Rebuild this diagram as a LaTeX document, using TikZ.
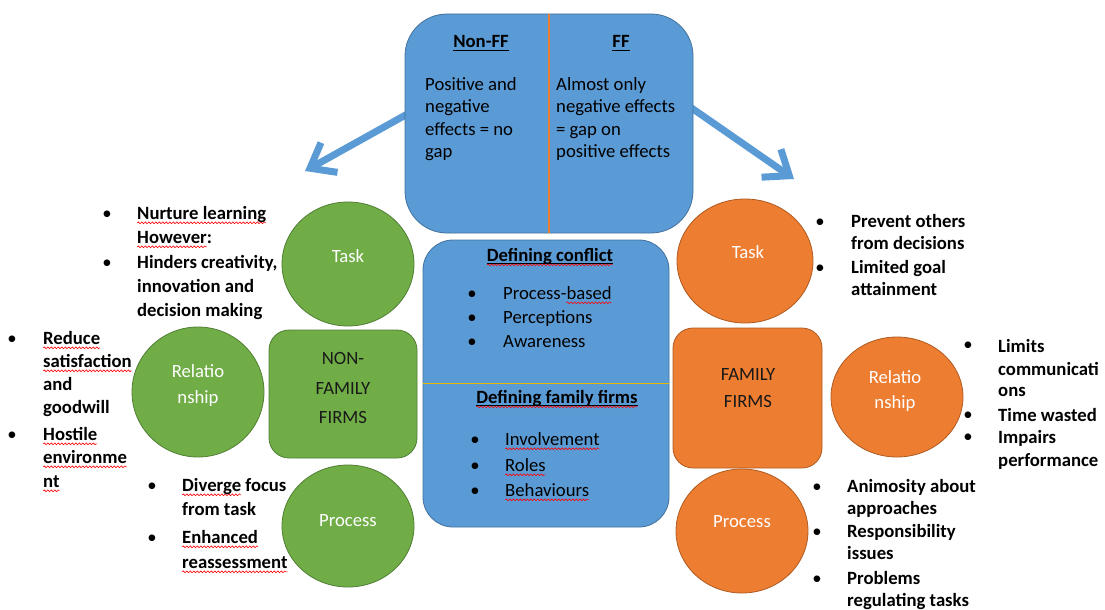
\documentclass[tikz,border=0pt]{standalone}
\usepackage{fontspec}
\setmainfont{Carlito}
\usetikzlibrary{arrows.meta,shapes.geometric,decorations.pathmorphing}
\definecolor{blueF}{HTML}{5B9BD5}
\definecolor{blueD}{HTML}{41719C}
\definecolor{greenF}{HTML}{70AD47}
\definecolor{greenD}{HTML}{507E32}
\definecolor{orangeF}{HTML}{ED7D31}
\definecolor{orangeD}{HTML}{AE5A21}
\definecolor{goldL}{HTML}{E6B800}
\newcommand\fs{\fontsize{18.7}{23}\selectfont}
\newsavebox\sqbox
\newlength\sqw
\newcommand\sq[1]{\sbox\sqbox{#1}\setlength\sqw{\wd\sqbox}\rlap{\tikz[overlay]\draw[red,line width=0.6pt,decorate,decoration={snake,amplitude=0.9pt,segment length=3.5pt}] (0pt,-3.8pt) -- (\sqw,-3.8pt);}\usebox\sqbox}
\newcommand\ul[1]{\sbox\sqbox{#1}\setlength\sqw{\wd\sqbox}\rlap{\tikz[overlay]\draw[black,line width=1.3pt] (0pt,-2.2pt) -- (\sqw,-2.2pt);}\usebox\sqbox}
\tikzset{
  txt/.style={anchor=base west, inner sep=0pt, font=\fs\bfseries, text=black},
  ptxt/.style={anchor=base west, inner sep=0pt, font=\fs, text=black},
  bul/.style={anchor=base, inner sep=0pt, font=\fs, text=black},
  wlab/.style={anchor=base, inner sep=0pt, font=\fs, text=white},
  dlab/.style={anchor=base, inner sep=0pt, font=\fs, text=black!90},
  hd/.style={anchor=base, inner sep=0pt, font=\fs\bfseries, text=black},
  bluebox/.style={draw=blueD, fill=blueF, line width=0.8pt},
  gcirc/.style={ellipse, draw=greenD, fill=greenF, line width=0.8pt, inner sep=0pt},
  ocirc/.style={ellipse, draw=orangeD, fill=orangeF, line width=0.8pt, inner sep=0pt},
  gbox/.style={draw=greenD, fill=greenF, line width=0.8pt, rounded corners=20pt, inner sep=0pt},
  obox/.style={draw=orangeD, fill=orangeF, line width=0.8pt, rounded corners=20pt, inner sep=0pt},
  bigarrow/.style={draw=blueF, line width=7pt, -{Straight Barb[length=22pt,width=34pt]}},
}
\begin{document}
\begin{tikzpicture}[x=1pt,y=-1pt]
\useasboundingbox (0,0) rectangle (1105,610);
% arrows
\coordinate (la0) at (420,107);
\coordinate (la1) at (305,171);
\coordinate (ra0) at (680,100);
\coordinate (ra1) at (794,179);
\draw[bigarrow] (la0) -- (la1);
\draw[bigarrow] (ra0) -- (ra1);
% top box
\node[bluebox, rounded corners=42pt, minimum width=288pt, minimum height=219pt, inner sep=0pt] (top) at (549,123.5) {};
\draw[orangeF, line width=1.2pt] (top.north) -- (top.south);
% middle box
\node[bluebox, rounded corners=30pt, minimum width=246pt, minimum height=287pt, inner sep=0pt] (mid) at (546,383.5) {};
\draw[goldL, line width=1.6pt] (mid.west) -- (mid.east);
% green shapes
\node[gcirc, minimum width=132pt, minimum height=124pt] (gtask) at (348,264) {};
\node[gbox, minimum width=148pt, minimum height=128pt] (gfirm) at (343,394) {};
\node[gcirc, minimum width=132pt, minimum height=130pt] (grel) at (198,392) {};
\node[gcirc, minimum width=132pt, minimum height=122pt] (gproc) at (348,526) {};
% orange shapes
\node[ocirc, minimum width=136pt, minimum height=124pt] (otask) at (745,261) {};
\node[obox, minimum width=149pt, minimum height=140pt] (ofirm) at (747.5,398) {};
\node[ocirc, minimum width=132pt, minimum height=120pt] (orel) at (897,397) {};
\node[ocirc, minimum width=132pt, minimum height=124pt] (oproc) at (742,531) {};
% shape labels
\node[wlab] (gtaskl) at (348,262) {Task};
\node[wlab] (grell1) at (198,377) {Relatio};
\node[wlab] (grell2) at (198,403) {nship};
\node[wlab] (gprocl) at (348,526) {Process};
\node[dlab] (gfirml1) at (343,364) {NON-};
\node[dlab] (gfirml2) at (343,394) {FAMILY};
\node[dlab] (gfirml3) at (343,423) {FIRMS};
\node[wlab] (otaskl) at (748,258) {Task};
\node[wlab] (orell1) at (895,383) {Relatio};
\node[wlab] (orell2) at (895,408) {nship};
\node[wlab] (oprocl) at (742,527) {Process};
\node[dlab] (ofirml1) at (748,380) {FAMILY};
\node[dlab] (ofirml2) at (748,407) {FIRMS};
% top box text
\node[hd] (hnff) at (481,48) {\ul{Non-FF}};
\node[hd] (hff) at (621,48) {\ul{FF}};
\foreach \tx/\yy [count=\i] in {{Positive and}/90, negative/112, {effects = no}/135, gap/157}
  \node[ptxt] (tl\i) at (425,\yy) {\tx};
\foreach \tx/\yy [count=\i] in {{Almost only}/90, {negative effects}/112, {= gap on}/135, {positive effects}/157}
  \node[ptxt] (tr\i) at (556,\yy) {\tx};
% middle box text
\node[hd] (hdc) at (550,261) {\sq{\ul{Defining conflict}}};
\foreach \tx/\yy [count=\i] in {{Process-\sq{based}}/299, Perceptions/323, Awareness/347}{
  \node[bul] (mb\i) at (472,\yy) {•};
  \node[ptxt] (mt\i) at (503,\yy) {\tx};}
\node[hd] (hdf) at (557,403) {\sq{\ul{Defining family firms}}};
\foreach \tx/\yy [count=\i] in {{\sq{Involvement}}/445, {\sq{Roles}}/471, {\sq{Behaviours}}/496}{
  \node[bul] (nb\i) at (475,\yy) {•};
  \node[ptxt] (nt\i) at (505,\yy) {\tx};}
% left task
\foreach \tx/\yy [count=\i] in {{\sq{Nurture learning}}/219, {\sq{However}:}/243, {Hinders creativity,}/268, {innovation and}/292, {decision making}/316}
  \node[txt] (lt\i) at (137,\yy) {\tx};
\node[bul] (ltb1) at (107,219) {•};
\node[bul] (ltb2) at (107,268) {•};
% left relationship
\foreach \tx/\yy [count=\i] in {{\sq{Reduce}}/344, {\sq{satisfaction}}/367, and/390, goodwill/413, {\sq{Hostile}}/440, {\sq{environme}}/463, {\sq{nt}}/487}
  \node[txt] (lr\i) at (43,\yy) {\tx};
\node[bul] (lrb1) at (12,344) {•};
\node[bul] (lrb2) at (12,440) {•};
% left process
\foreach \tx/\yy [count=\i] in {{\sq{Diverge} focus}/491, {from task}/515, {\sq{Enhanced}}/543, {\sq{reassessment}}/568}
  \node[txt] (lp\i) at (182,\yy) {\tx};
\node[bul] (lpb1) at (152,491) {•};
\node[bul] (lpb2) at (152,543) {•};
% right task
\foreach \tx/\yy [count=\i] in {{Prevent others}/227, {from decisions}/249, {Limited goal}/273, attainment/295}
  \node[txt] (rt\i) at (851,\yy) {\tx};
\node[bul] (rtb1) at (820,227) {•};
\node[bul] (rtb2) at (820,273) {•};
% right relationship
\foreach \tx/\yy [count=\i] in {Limits/352, communicati/375, ons/396, {Time wasted}/421, Impairs/443, performance/466}
  \node[txt] (rr\i) at (998,\yy) {\tx};
\node[bul] (rrb1) at (968,350) {•};
\node[bul] (rrb2) at (968,420) {•};
\node[bul] (rrb3) at (968,442) {•};
% right process
\foreach \tx/\yy [count=\i] in {{Animosity about}/492, approaches/514, Responsibility/537, issues/559, Problems/584, {regulating tasks}/606}
  \node[txt] (rp\i) at (847,\yy) {\tx};
\node[bul] (rpb1) at (817,492) {•};
\node[bul] (rpb2) at (817,537) {•};
\node[bul] (rpb3) at (817,584) {•};
\end{tikzpicture}
\end{document}
